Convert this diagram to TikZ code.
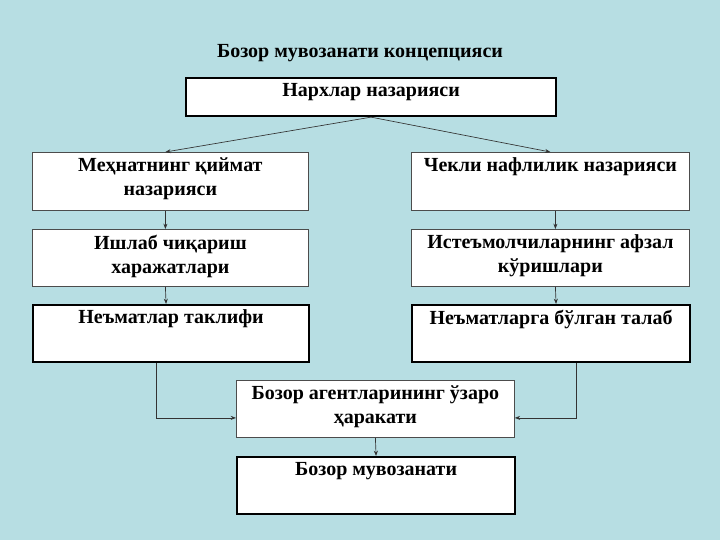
\documentclass[tikz,border=0pt]{standalone}
\usepackage{fontspec}
\setmainfont{Liberation Serif}
\usetikzlibrary{arrows.meta,calc}
\definecolor{bg}{HTML}{B7DEE3}
\begin{document}
\begin{tikzpicture}[x=0.75pt,y=-0.75pt,
 box/.style={draw=black!70,fill=white,line width=0.6pt,anchor=north west,inner sep=0pt},
 tbox/.style={box,draw=black,line width=1.6pt},
 lbl/.style={anchor=north,align=center,inner sep=2pt,font=\bfseries\fontsize{15}{18}\selectfont},
 arr/.style={-{Stealth[length=4pt,width=3pt]},line width=0.5pt,draw=black!80}]
\fill[bg] (0,0) rectangle (720,540);
\node[font=\bfseries\fontsize{15}{18}\selectfont] (title) at (360,53) {Бозор мувозанати концепцияси};
\newcommand{\bx}[7]{\node[#1,minimum width=#4*0.75pt,minimum height=#5*0.75pt] (#6) at (#2,#3) {};
 \node[lbl] at ($(#6.north)+(0,3)$) {#7};}
\bx{tbox}{185}{77}{370}{38}{n}{Нархлар назарияси}
\bx{box}{32}{152}{276}{58}{l1}{Меҳнатнинг қиймат\\назарияси}
\bx{box}{32}{229}{276}{57}{l2}{Ишлаб чиқариш\\харажатлари}
\bx{tbox}{32}{304}{276}{57}{l3}{Неъматлар таклифи}
\bx{box}{411}{152}{278}{58}{r1}{Чекли нафлилик назарияси}
\bx{box}{411}{229}{278}{57}{r2}{Истеъмолчиларнинг афзал\\кўришлари}
\bx{tbox}{411}{304}{278}{57}{r3}{Неъматларга бўлган талаб}
\bx{box}{236}{380}{278}{57}{c1}{Бозор агентларининг ўзаро\\ҳаракати}
\bx{tbox}{236}{456}{278}{57}{c2}{Бозор мувозанати}
\draw[arr] (n.south) -- ($(l1.north)+(-5,0)$);
\draw[arr] (n.south) -- ($(r1.north)+(0,0)$);
\draw[arr] ($(l1.south)+(-5,0)$) -- ($(l2.north)+(-5,0)$);
\draw[arr] ($(l2.south)+(-5,0)$) -- ($(l3.north)+(-5,0)$);
\draw[arr] ($(r1.south)+(5,0)$) -- ($(r2.north)+(5,0)$);
\draw[arr] ($(r2.south)+(5,0)$) -- ($(r3.north)+(5,0)$);
\draw[arr] ($(l3.south)+(-15,0)$) |- ($(c1.west)+(0,9)$);
\draw[arr] ($(r3.south)+(25,0)$) |- ($(c1.east)+(0,9)$);
\draw[arr] (c1.south) -- (c2.north);
\end{tikzpicture}
\end{document}
